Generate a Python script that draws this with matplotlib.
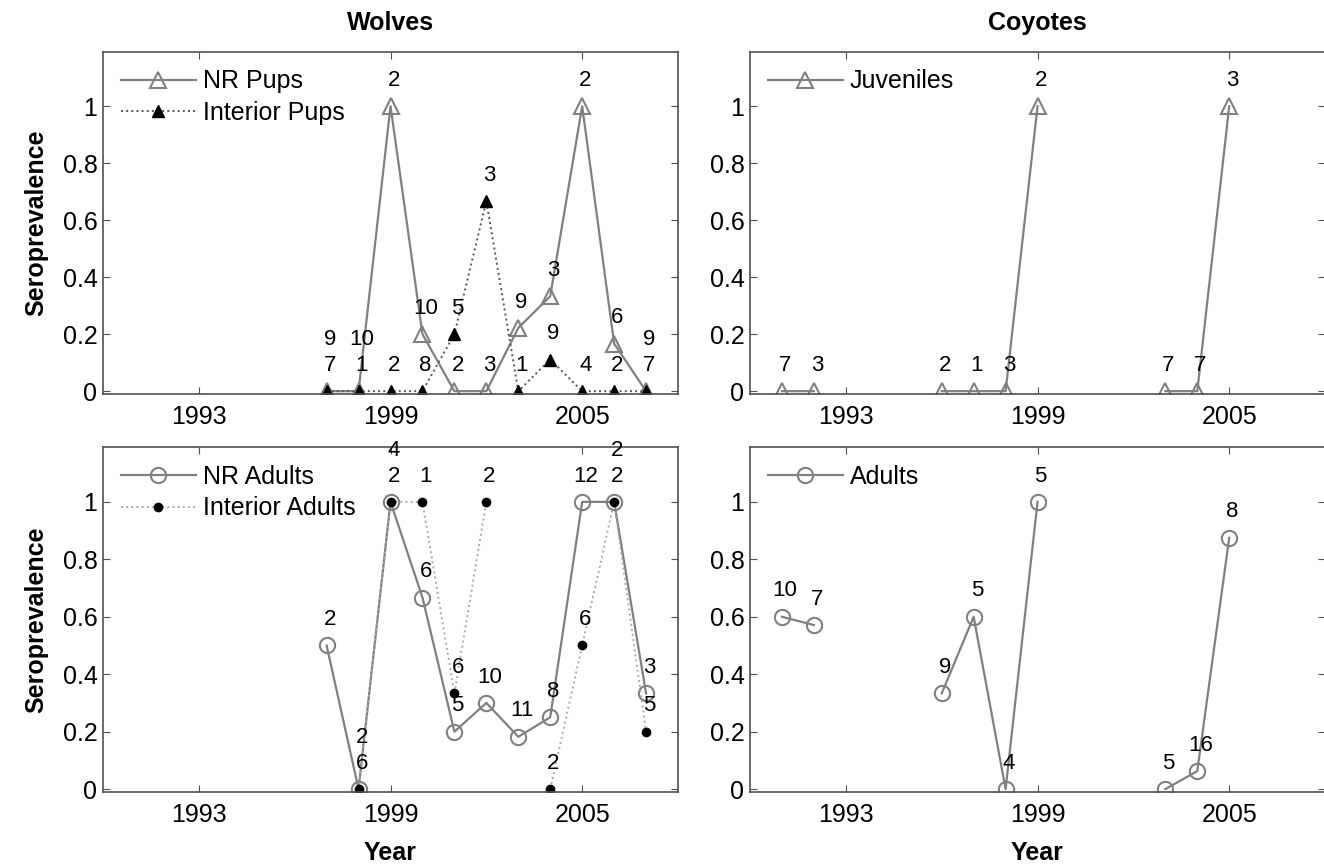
import numpy as np
import matplotlib.pyplot as plt

plt.rcParams['font.family'] = ['Liberation Sans', 'DejaVu Sans']

nan = np.nan

# wolves, 1997-2007
wolf_years = np.arange(1997, 2008)
nr_pups = [0, 0, 1, 0.2, 0, 0, 0.222, 0.333, 1, 0.167, 0]
nr_pups_n = [9, 10, 2, 10, 2, 3, 9, 3, 2, 6, 9]
int_pups = [0, 0, 0, 0, 0.2, 0.667, 0, 0.111, 0, 0, 0]
int_pups_n = [7, 1, 2, 8, 5, 3, 1, 9, 4, 2, 7]

nr_adults = [0.5, 0, 1, 0.667, 0.2, 0.3, 0.182, 0.25, 1, 1, 0.333]
nr_adults_n = [2, 2, 4, 6, 5, 10, 11, 8, 12, 2, 3]
int_adults = [nan, 0, 1, 1, 0.333, 1, nan, 0, 0.5, 1, 0.2]
int_adults_n = [None, 6, 2, 1, 6, 2, None, 2, 6, 2, 5]

# coyotes, 1991-2005 (gaps = no sample)
coy_years = np.arange(1991, 2006)
coy_juv = [0, 0, nan, nan, nan, 0, 0, 0, 1, nan, nan, nan, 0, 0, 1]
coy_juv_n = [7, 3, None, None, None, 2, 1, 3, 2, None, None, None, 7, 7, 3]
coy_adults = [0.6, 0.571, nan, nan, nan, 0.333, 0.6, 0, 1, nan, nan, nan, 0, 0.0625, 0.875]
coy_adults_n = [10, 7, None, None, None, 9, 5, 4, 5, None, None, None, 5, 16, 8]

GRAY = '#808080'
AXC = '#505050'
DY = 0.09


def label_points(ax, years, vals, ns, other=None):
    for i, (x, y, n) in enumerate(zip(years, vals, ns)):
        if n is None or np.isnan(y):
            continue
        off = DY
        if other is not None and not np.isnan(other[i]) and other[i] == y:
            off = 2 * DY
        ax.text(x + 0.1, y + off, str(n), ha='center', va='center', fontsize=16)


def style(ax):
    ax.set_xlim(1990, 2008)
    ax.set_ylim(-0.01, 1.19)
    ax.set_xticks([1993, 1999, 2005])
    ax.set_yticks([0, 0.2, 0.4, 0.6, 0.8, 1])
    ax.set_yticklabels(['0', '0.2', '0.4', '0.6', '0.8', '1'])
    ax.tick_params(direction='in', top=True, right=True, length=5,
                   color=AXC, labelsize=18)
    ax.tick_params(axis='x', pad=8)
    ax.tick_params(axis='y', pad=4)
    for s in ax.spines.values():
        s.set_color(AXC)
        s.set_linewidth(1.2)


fig = plt.figure(figsize=(13.24, 8.66), dpi=100)
ax_tl = fig.add_axes([0.0778, 0.545, 0.4343, 0.395])
ax_tr = fig.add_axes([0.5665, 0.545, 0.4343, 0.395])
ax_bl = fig.add_axes([0.0778, 0.0855, 0.4343, 0.398])
ax_br = fig.add_axes([0.5665, 0.0855, 0.4343, 0.398])

# wolves pups
ax_tl.plot(wolf_years, nr_pups, '-', color=GRAY, lw=1.6, marker='^', ms=11,
           mfc='none', mec=GRAY, mew=1.5, label='NR Pups')
ax_tl.plot(wolf_years, int_pups, ':', color='#555555', lw=1.4, marker='^', ms=9,
           mfc='black', mec='black', label='Interior Pups')
label_points(ax_tl, wolf_years, nr_pups, nr_pups_n, other=int_pups)
label_points(ax_tl, wolf_years, int_pups, int_pups_n)

# wolves adults
ax_bl.plot(wolf_years, nr_adults, '-', color=GRAY, lw=1.6, marker='o', ms=11,
           mfc='none', mec=GRAY, mew=1.5, label='NR Adults')
ax_bl.plot(wolf_years, int_adults, ':', color='#aaaaaa', lw=1.4, marker='o', ms=6,
           mfc='black', mec='black', label='Interior Adults')
label_points(ax_bl, wolf_years, nr_adults, nr_adults_n, other=int_adults)
label_points(ax_bl, wolf_years, int_adults, int_adults_n)

# coyotes
ax_tr.plot(coy_years, coy_juv, '-', color=GRAY, lw=1.6, marker='^', ms=11,
           mfc='none', mec=GRAY, mew=1.5, label='Juveniles')
label_points(ax_tr, coy_years, coy_juv, coy_juv_n)

ax_br.plot(coy_years, coy_adults, '-', color=GRAY, lw=1.6, marker='o', ms=11,
           mfc='none', mec=GRAY, mew=1.5, label='Adults')
label_points(ax_br, coy_years, coy_adults, coy_adults_n)

for ax in (ax_tl, ax_tr, ax_bl, ax_br):
    style(ax)
    ax.legend(loc='upper left', frameon=False, fontsize=18, numpoints=1,
              handlelength=3.0, handletextpad=0.3, labelspacing=0.3,
              borderaxespad=0.3)

ax_tl.set_title('Wolves', fontsize=18, fontweight='bold', pad=16)
ax_tr.set_title('Coyotes', fontsize=18, fontweight='bold', pad=16)
ax_tl.set_ylabel('Seroprevalence', fontsize=18, fontweight='bold', labelpad=10)
ax_bl.set_ylabel('Seroprevalence', fontsize=18, fontweight='bold', labelpad=10)
ax_bl.set_xlabel('Year', fontsize=18, fontweight='bold', labelpad=10)
ax_br.set_xlabel('Year', fontsize=18, fontweight='bold', labelpad=10)

fig.savefig('out.png', dpi=100)
